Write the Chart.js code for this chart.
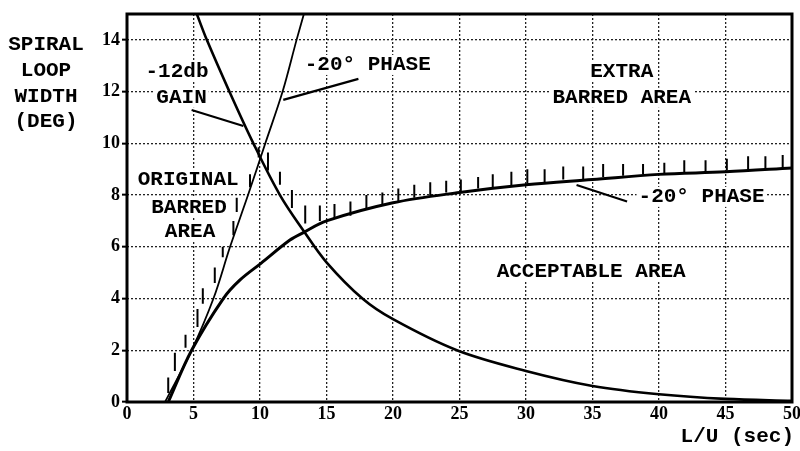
<!DOCTYPE html>
<html>
<head>
<meta charset="utf-8">
<script src="https://cdn.jsdelivr.net/npm/chart.js@4/dist/chart.umd.min.js"></script>
<style>
  html, body { margin: 0; padding: 0; background: #fff; }
  canvas { display: block; }
</style>
</head>
<body>
<canvas id="c" width="800" height="451"></canvas>
<script>
// ---- Data ----
const xTicks = [0, 5, 10, 15, 20, 25, 30, 35, 40, 45, 50];
const yTicks = [0, 2, 4, 6, 8, 10, 12, 14];

// -12db gain boundary (falling curve)
const gainX = [5.25, 6, 7.7, 9.5, 11.5, 13.3, 15, 17.7, 20, 24.8, 30, 35, 40, 45, 50];
const gainY = [15, 14, 12, 10, 8, 6.6, 5.4, 4, 3.2, 2, 1.2, 0.62, 0.3, 0.12, 0.05];

// -20 deg phase boundary, steep branch
const steepX = [2.86, 4.86, 6.5, 7.75, 9.1, 10.4, 11.7, 12.75, 13.3];
const steepY = [0, 2, 4, 6, 8, 10, 12, 14, 15];

// -20 deg phase boundary, flattening branch
const phaseX = [3.1, 4.86, 7.24, 8.5, 10.07, 12.25, 13.26, 15, 20, 25, 30, 35, 40, 45, 50];
const phaseY = [0, 2, 4, 4.72, 5.36, 6.26, 6.55, 7.0, 7.7, 8.1, 8.4, 8.6, 8.8, 8.9, 9.05];

// hatch (barred-side) marks: x, lower end, upper end
const hatchX = [3.1, 3.6, 4.4, 5.3, 5.7, 6.6, 7.2, 8.0, 8.25, 9.25, 9.9,
                10.6, 11.5, 12.4, 13.4,
                14.5, 15.6, 16.8, 18.0, 19.2, 20.4, 21.6, 22.8, 24.0, 25.1, 26.4, 27.5, 28.9,
                30.1, 31.4, 32.8, 34.3, 35.8, 37.3, 38.8, 40.4, 41.9, 43.5, 45.1, 46.7, 48.0, 49.3];
const hatchLow = [0.35, 1.2, 2.1, 2.9, 3.8, 4.6, 5.6, 6.45, 7.35, 8.3, 9.45,
                  8.95, 8.4, 7.5, 6.9,
                  7.0, 7.1, 7.2, 7.45, 7.6, 7.75, 7.9, 8.0, 8.1, 8.15, 8.25, 8.3, 8.35,
                  8.45, 8.5, 8.6, 8.62, 8.7, 8.75, 8.8, 8.82, 8.88, 8.92, 8.95, 9.0, 9.02, 9.05];
const hatchHigh = [0.95, 1.9, 2.6, 3.6, 4.4, 5.2, 6.0, 7.0, 7.9, 8.8, 9.85,
                   9.65, 8.9, 8.2, 7.6,
                   7.6, 7.65, 7.75, 8.0, 8.1, 8.25, 8.4, 8.5, 8.55, 8.6, 8.7, 8.8, 8.9,
                   9.0, 9.0, 9.1, 9.1, 9.2, 9.2, 9.2, 9.25, 9.35, 9.35, 9.4, 9.5, 9.5, 9.55];

// leader lines from labels to curves
const leaderGainX = [4.86, 8.75];
const leaderGainY = [11.29, 10.67];
const leaderPhaseTopX = [11.75, 17.4];
const leaderPhaseTopY = [11.68, 12.49];
const leaderPhaseRightX = [33.8, 37.6];
const leaderPhaseRightY = [8.39, 7.75];

// annotation texts (data coordinates of text centres)
const noteText = ['-12db', 'GAIN', '-20° PHASE', 'EXTRA', 'BARRED AREA', '-20° PHASE',
                  'ORIGINAL', 'BARRED', 'AREA', 'ACCEPTABLE AREA'];
const noteX = [3.76, 4.1, 18.1, 37.2, 37.2, 43.2, 4.6, 4.66, 4.74, 34.9];
const noteY = [12.76, 11.76, 13.03, 12.76, 11.76, 7.93, 8.58, 7.52, 6.6, 5.03];

const yTitleLines = ['SPIRAL', 'LOOP', 'WIDTH', '(DEG)'];
const xTitle = 'L/U (sec)';

// ---- Build datasets ----
function pts(xs, ys) { return xs.map((x, i) => ({ x: x, y: ys[i] })); }
function hatchPts() {
  const out = [];
  hatchX.forEach((x, i) => {
    out.push({ x: x, y: hatchLow[i] });
    out.push({ x: x, y: hatchHigh[i] });
    out.push({ x: x, y: null });
  });
  return out;
}
const curveBase = { showLine: true, pointRadius: 0, borderColor: '#000', fill: false,
                    tension: 0.35, cubicInterpolationMode: 'default' };

const MONO = '"Liberation Mono", "Courier New", monospace';
const SERIF = '"Liberation Serif", "Times New Roman", serif';

const framePlugin = {
  id: 'frame',
  afterDraw(chart) {
    const a = chart.chartArea, ctx = chart.ctx;
    ctx.save();
    ctx.strokeStyle = '#000';
    ctx.lineWidth = 3;
    ctx.strokeRect(a.left, a.top, a.right - a.left, a.bottom - a.top);
    ctx.restore();
  }
};

const textPlugin = {
  id: 'texts',
  afterDraw(chart) {
    const ctx = chart.ctx, xs = chart.scales.x, ys = chart.scales.y;
    ctx.save();
    ctx.fillStyle = '#000';
    ctx.font = 'bold 21px ' + MONO;
    ctx.textAlign = 'center';
    ctx.textBaseline = 'middle';
    noteText.forEach((t, i) => {
      const px = xs.getPixelForValue(noteX[i]);
      const py = ys.getPixelForValue(noteY[i]);
      ctx.fillStyle = '#fff';
      const w = ctx.measureText(t).width;
      ctx.fillRect(px - w / 2 - 2, py - 10, w + 4, 20);
      ctx.fillStyle = '#000';
      ctx.fillText(t, px, py);
    });
    // y-axis title (left)
    yTitleLines.forEach((t, i) => {
      ctx.fillText(t, 46, 45 + i * 25.7);
    });
    // x-axis title (bottom right)
    ctx.textAlign = 'right';
    ctx.fillText(xTitle, 794, 437);
    ctx.restore();
  }
};

new Chart(document.getElementById('c'), {
  type: 'scatter',
  data: {
    datasets: [
      Object.assign({ data: pts(gainX, gainY), borderWidth: 2.6 }, curveBase),
      Object.assign({ data: pts(steepX, steepY), borderWidth: 1.8 }, curveBase),
      Object.assign({ data: pts(phaseX, phaseY), borderWidth: 3 }, curveBase),
      { data: hatchPts(), showLine: true, pointRadius: 0, borderColor: '#000', borderWidth: 2,
        tension: 0, spanGaps: false },
      { data: pts(leaderGainX, leaderGainY), showLine: true, pointRadius: 0, borderColor: '#000', borderWidth: 2.2, tension: 0 },
      { data: pts(leaderPhaseTopX, leaderPhaseTopY), showLine: true, pointRadius: 0, borderColor: '#000', borderWidth: 2.2, tension: 0 },
      { data: pts(leaderPhaseRightX, leaderPhaseRightY), showLine: true, pointRadius: 0, borderColor: '#000', borderWidth: 2.2, tension: 0 }
    ]
  },
  options: {
    responsive: false,
    animation: false,
    events: [],
    layout: { padding: { left: 0, right: 8, top: 14, bottom: 0 } },
    plugins: { legend: { display: false }, tooltip: { enabled: false } },
    scales: {
      x: {
        type: 'linear', min: 0, max: 50,
        afterBuildTicks(s) { s.ticks = xTicks.map(v => ({ value: v })); },
        ticks: { color: '#000', font: { family: SERIF, size: 18, weight: 'bold' },
                 padding: 2, maxRotation: 0, autoSkip: false },
        grid: { color: '#222', lineWidth: 1.3, drawTicks: false },
        border: { display: false, dash: [2, 2] },
        afterFit(s) { s.height = 49; s.paddingLeft = 0; s.paddingRight = 0; }
      },
      y: {
        type: 'linear', min: 0, max: 15,
        afterBuildTicks(s) { s.ticks = yTicks.map(v => ({ value: v })); },
        ticks: { color: '#000', font: { family: SERIF, size: 18, weight: 'bold' },
                 padding: 2, autoSkip: false },
        grid: { color: '#222', lineWidth: 1.3, tickLength: 5, tickColor: '#000',
                tickWidth: 2, tickBorderDash: [] },
        border: { display: false, dash: [2, 2] },
        afterFit(s) { s.width = 127; s.paddingTop = 0; s.paddingBottom = 0; }
      }
    }
  },
  plugins: [framePlugin, textPlugin]
});
</script>
</body>
</html>
